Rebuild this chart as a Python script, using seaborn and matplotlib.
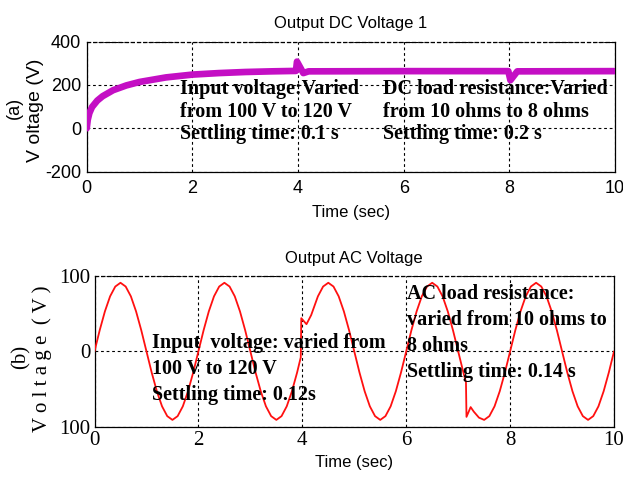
import matplotlib
matplotlib.use("Agg")
import matplotlib.pyplot as plt
import seaborn as sns
import pandas as pd

# ---------------- data ----------------
t_dc = [0.0, 0.02, 0.05, 0.1, 0.2, 0.3, 0.5, 0.75, 1.0, 1.5, 2.0, 2.5, 3.0, 3.5,
        3.96, 3.98, 4.1, 4.2, 6.0, 7.98, 8.02, 8.15, 10.0]
v_dc = [0, 40, 70, 98, 128, 148, 176, 198, 214, 235, 248, 255, 260, 263,
        265, 308, 255, 263, 264, 264, 222, 263, 264]

t_ac = [0.0, 0.1, 0.2, 0.3, 0.4, 0.5, 0.6, 0.7, 0.8, 0.9,
        1.0, 1.1, 1.2, 1.3, 1.4, 1.5, 1.6, 1.7, 1.8, 1.9,
        2.0, 2.1, 2.2, 2.3, 2.4, 2.5, 2.6, 2.7, 2.8, 2.9,
        3.0, 3.1, 3.2, 3.3, 3.4, 3.5, 3.6, 3.7, 3.8, 3.9,
        3.97, 3.98, 4.08, 4.17, 4.3, 4.4, 4.5, 4.6, 4.7, 4.8, 4.9,
        5.0, 5.1, 5.2, 5.3, 5.4, 5.5, 5.6, 5.7, 5.8, 5.9,
        6.0, 6.1, 6.2, 6.3, 6.4, 6.5, 6.6, 6.7, 6.8, 6.9,
        7.0, 7.1, 7.15, 7.16, 7.24, 7.3, 7.4, 7.5, 7.6, 7.7, 7.8, 7.9,
        8.0, 8.1, 8.2, 8.3, 8.4, 8.5, 8.6, 8.7, 8.8, 8.9,
        9.0, 9.1, 9.2, 9.3, 9.4, 9.5, 9.6, 9.7, 9.8, 9.9, 10.0]
v_ac = [0, 28, 53, 73, 86, 91, 86, 73, 53, 28,
        0, -28, -53, -73, -86, -91, -86, -73, -53, -28,
        0, 28, 53, 73, 86, 91, 86, 73, 53, 28,
        0, -28, -53, -73, -86, -91, -86, -73, -53, -28,
        -8, 44, 36, 48, 73, 86, 91, 86, 73, 53, 28,
        0, -28, -53, -73, -86, -91, -86, -73, -53, -28,
        0, 28, 53, 73, 86, 91, 86, 73, 53, 28,
        0, -28, -41, -87, -74, -80, -88, -91, -86, -73, -53, -28,
        0, 28, 53, 73, 86, 91, 86, 73, 53, 28,
        0, -28, -53, -73, -86, -91, -86, -73, -53, -28, 0]

x_ticks = [0, 2, 4, 6, 8, 10]
y_ticks_dc = [-200, 0, 200, 400]
y_ticks_ac = [-100, 0, 100]
y_ticklabels_ac = ["100", "0", "100"]

title_dc = "Output DC Voltage 1"
title_ac = "Output AC Voltage"
note_dc1 = "Input voltage:Varied\nfrom 100 V to 120 V\nSettling time: 0.1 s"
note_dc2 = "DC load resistance:Varied\nfrom 10 ohms to 8 ohms\nSettling time: 0.2 s"
note_ac1 = "Input  voltage: varied from\n100 V to 120 V\nSettling time: 0.12s"
note_ac2 = "AC load resistance:\nvaried from 10 ohms to\n8 ohms\nSettling time: 0.14 s"

# ---------------- plot ----------------
sns.set_style("white")
plt.rcParams["font.family"] = ["Liberation Sans", "DejaVu Sans"]
plt.rcParams["axes.unicode_minus"] = False
for k in ("text.color", "axes.labelcolor", "xtick.color", "ytick.color"):
    plt.rcParams[k] = "black"

fig = plt.figure(figsize=(6.23, 4.83), dpi=100)
ax1 = fig.add_axes([0.1392, 0.6447, 0.8480, 0.2690])
ax2 = fig.add_axes([0.1517, 0.1166, 0.8339, 0.3120])

df_dc = pd.DataFrame({"t": t_dc, "v": v_dc})
df_ac = pd.DataFrame({"t": t_ac, "v": v_ac})

sns.lineplot(data=df_dc, x="t", y="v", ax=ax1, color="#c40fc4", lw=4.8,
             estimator=None, sort=False, zorder=3)
sns.lineplot(data=df_ac, x="t", y="v", ax=ax2, color="#ff1010", lw=1.3,
             estimator=None, sort=False, zorder=3)

serif = ["Liberation Serif", "DejaVu Serif"]

for ax in (ax1, ax2):
    ax.set_xlim(0, 10)
    ax.set_xticks(x_ticks)
    ax.grid(True, color="black", linestyle=(0, (2.5, 2.5)), lw=0.8)
    for s in ax.spines.values():
        s.set_color("black")
        s.set_linewidth(0.9)
    ax.spines["top"].set_linestyle((0, (2.5, 2.5)))
    ax.tick_params(direction="in", length=3, color="black")
    ax.set_ylabel("")

ax1.set_ylim(-200, 400)
ax1.set_yticks(y_ticks_dc)
ax1.tick_params(labelsize=13, pad=4)
ax1.tick_params(axis="x", pad=6)
ax1.set_xlabel("Time (sec)", fontsize=12, labelpad=6)
ax1.set_title(title_dc, fontsize=12, pad=10)

ax2.set_ylim(-100, 100)
ax2.set_yticks(y_ticks_ac)
ax2.set_yticklabels(y_ticklabels_ac)
ax2.tick_params(labelsize=15, pad=3)
for lab in ax2.get_xticklabels() + ax2.get_yticklabels():
    lab.set_family(serif)
ax2.set_xlabel("Time (sec)", fontsize=12, labelpad=4)
ax2.set_title(title_ac, fontsize=12, pad=9)

kw = dict(fontsize=14.5, fontweight="bold", family=serif, va="top", ha="left",
          zorder=4, color="black")
ax1.text(1.76, 226, note_dc1, linespacing=1.15, **kw)
ax1.text(5.6, 226, note_dc2, linespacing=1.15, **kw)
ax2.text(1.11, 24, note_ac1, linespacing=1.4, **kw)
ax2.text(6.01, 89, note_ac2, linespacing=1.4, **kw)

# y labels
fig.text(14 / 623, 1 - 108 / 483, "(a)", rotation=90, ha="center", va="center",
         fontsize=13)
fig.text(35 / 623, 1 - 110 / 483, "V oltage (V)", rotation=90, ha="center",
         va="center", fontsize=14)
fig.text(21 / 623, 1 - 357 / 483, "(b)", rotation=90, ha="center", va="center",
         fontsize=15, family=serif)
fig.text(42 / 623, 1 - 359 / 483, "V o l t a g e  ( V )", rotation=90,
         ha="center", va="center", fontsize=15, family=serif)

fig.savefig("out.png", dpi=100, facecolor="white")
